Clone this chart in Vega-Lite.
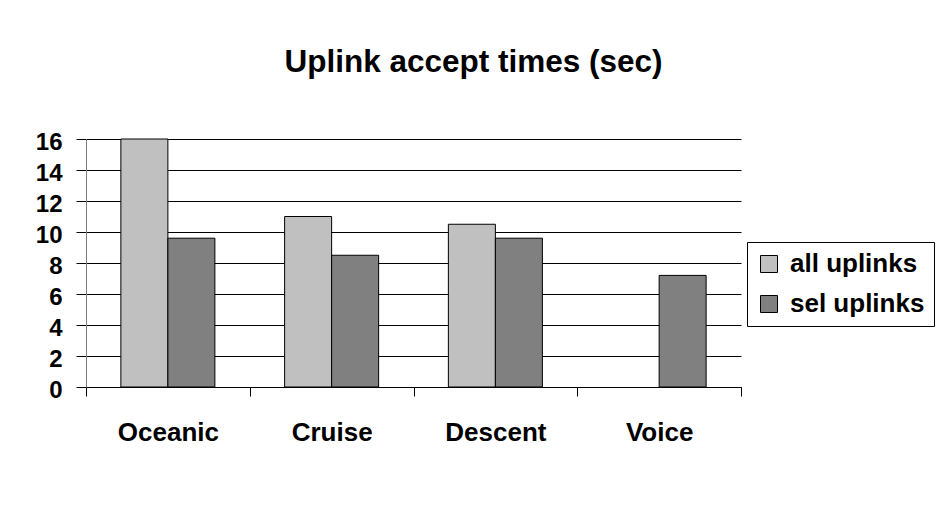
{
  "$schema": "https://vega.github.io/schema/vega-lite/v6.json",
  "width": 655,
  "height": 248,
  "autosize": {"type": "none"},
  "padding": {"left": 86, "top": 139, "right": 195, "bottom": 118},
  "background": "white",
  "title": {
    "text": "Uplink accept times (sec)",
    "fontSize": 31.5,
    "font": "Liberation Sans",
    "fontWeight": "bold",
    "color": "black",
    "anchor": "middle",
    "frame": "group",
    "dx": 60,
    "offset": 27,
    "baseline": "alphabetic"
  },
  "data": {
    "values": [
      {"phase": "Oceanic", "series": "all uplinks", "value": 16},
      {"phase": "Oceanic", "series": "sel uplinks", "value": 9.6},
      {"phase": "Cruise", "series": "all uplinks", "value": 11},
      {"phase": "Cruise", "series": "sel uplinks", "value": 8.5},
      {"phase": "Descent", "series": "all uplinks", "value": 10.5},
      {"phase": "Descent", "series": "sel uplinks", "value": 9.6},
      {"phase": "Voice", "series": "sel uplinks", "value": 7.2}
    ]
  },
  "mark": {"type": "bar", "stroke": "black", "strokeWidth": 1},
  "encoding": {
    "x": {
      "field": "phase",
      "type": "nominal",
      "sort": ["Oceanic", "Cruise", "Descent", "Voice"],
      "scale": {"paddingInner": 0, "paddingOuter": 0},
      "axis": {
        "title": null,
        "labelAngle": 0,
        "tickBand": "extent",
        "tickSize": 9,
        "tickColor": "black",
        "domainColor": "black",
        "labelPadding": 23,
        "labelFontSize": 26,
        "labelFont": "Liberation Sans",
        "labelFontWeight": "bold",
        "labelColor": "black",
        "grid": false
      }
    },
    "xOffset": {
      "field": "series",
      "type": "nominal",
      "sort": ["all uplinks", "sel uplinks"],
      "scale": {"paddingInner": 0, "paddingOuter": 0.742}
    },
    "y": {
      "field": "value",
      "type": "quantitative",
      "scale": {"domain": [0, 16], "nice": false},
      "axis": {
        "title": null,
        "values": [0, 2, 4, 6, 8, 10, 12, 14, 16],
        "tickSize": 10,
        "tickColor": "black",
        "domainColor": "#808080",
        "grid": true,
        "gridColor": "black",
        "gridWidth": 1,
        "gridOpacity": 1,
        "labelPadding": 14,
        "labelOffset": 3,
        "labelFontSize": 24,
        "labelFont": "Liberation Sans",
        "labelFontWeight": "bold",
        "labelColor": "black"
      }
    },
    "color": {
      "field": "series",
      "type": "nominal",
      "scale": {"domain": ["all uplinks", "sel uplinks"], "range": ["#C0C0C0", "#808080"]},
      "legend": {
        "title": null,
        "orient": "none",
        "legendX": 661,
        "legendY": 103,
        "symbolType": "square",
        "symbolSize": 289,
        "symbolStrokeColor": "black",
        "symbolStrokeWidth": 1,
        "symbolOpacity": 1,
        "labelFontSize": 26,
        "labelFont": "Liberation Sans",
        "labelFontWeight": "bold",
        "labelColor": "black",
        "labelLimit": 300,
        "labelOffset": 8,
        "rowPadding": 14,
        "padding": 9,
        "strokeColor": "black",
        "fillColor": "white"
      }
    }
  },
  "config": {
    "view": {"stroke": null},
    "font": "Liberation Sans"
  }
}
